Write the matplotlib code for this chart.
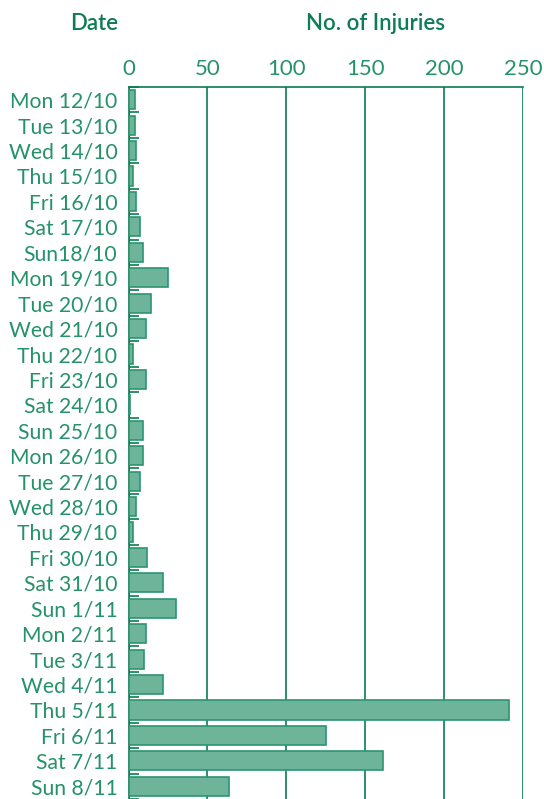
import numpy as np
import matplotlib
matplotlib.use("Agg")
import matplotlib.pyplot as plt

dates = ["Mon 12/10", "Tue 13/10", "Wed 14/10", "Thu 15/10", "Fri 16/10",
         "Sat 17/10", "Sun18/10", "Mon 19/10", "Tue 20/10", "Wed 21/10",
         "Thu 22/10", "Fri 23/10", "Sat 24/10", "Sun 25/10", "Mon 26/10",
         "Tue 27/10", "Wed 28/10", "Thu 29/10", "Fri 30/10", "Sat 31/10",
         "Sun 1/11", "Mon 2/11", "Tue 3/11", "Wed 4/11", "Thu 5/11",
         "Fri 6/11", "Sat 7/11", "Sun 8/11"]
injuries = [4, 4, 5, 3, 5, 7, 9, 25, 14, 11, 3, 11, 1, 9, 9, 7, 5, 3,
            12, 22, 30, 11, 10, 22, 241, 125, 161, 64]
x_ticks = [0, 50, 100, 150, 200, 250]

txt_col = "#259269"
line_col = "#0b7d52"
bar_fill = "#6db49b"
bar_edge = "#2a9572"

plt.rcParams['font.family'] = ['Lato', 'DejaVu Sans']

fig = plt.figure(figsize=(5.44, 7.99), dpi=100)
ax = fig.add_axes([128.5 / 544, 0.0, (523 - 128.5) / 544, 1 - 87 / 799])

y = np.arange(len(dates))
ax.barh(y, injuries, height=0.75, color=bar_fill, edgecolor=bar_edge, linewidth=1.2, zorder=3)

ax.set_xlim(0, 250)
ax.set_ylim(len(dates) - 0.5, -0.5)

ax.xaxis.tick_top()
ax.set_xticks(x_ticks)
ax.set_xticklabels([str(t) for t in x_ticks], color=txt_col, fontsize=16)
ax.tick_params(axis='x', length=0, pad=6)
ax.grid(axis='x', color=line_col, linewidth=1.2, zorder=1)

# boundary ticks (inside) and labels at category centres
ax.set_yticks(np.arange(-0.5, len(dates), 1))
ax.set_yticklabels([])
ax.tick_params(axis='y', which='major', direction='in', length=7, width=1.2, color=line_col)
ax.set_yticks(y, minor=True)
ax.set_yticklabels(dates, minor=True, color=txt_col, fontsize=15.2)
ax.tick_params(axis='y', which='minor', length=0, pad=8)

for s in ['bottom', 'right']:
    ax.spines[s].set_visible(False)
for s in ['top', 'left']:
    ax.spines[s].set_color(line_col)
    ax.spines[s].set_linewidth(1.2)

fig.text(94 / 544, 1 - 23 / 799, "Date", ha='center', va='center',
         color="#0e7d55", fontsize=16, fontweight='semibold')
fig.text(375 / 544, 1 - 23 / 799, "No. of Injuries", ha='center', va='center',
         color="#0e7d55", fontsize=16, fontweight='semibold')

fig.savefig("out.png", dpi=100)
